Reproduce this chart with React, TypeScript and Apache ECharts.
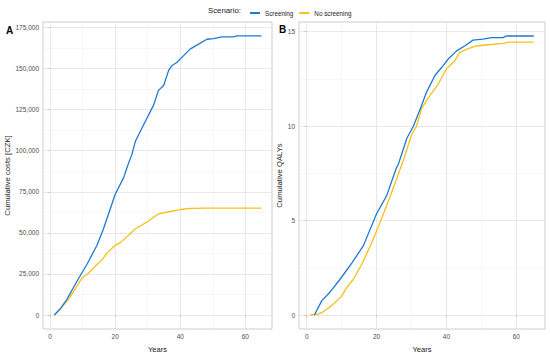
import React, { useEffect, useRef } from "react";
import * as echarts from "echarts";

// Panel A: cumulative costs [CZK]
const costYearsScreening = [1.3, 3.2, 5.1, 8.2, 11.5, 14.4, 16.4, 20, 22.6, 23.6, 25.1, 26.2, 28.7, 31.8, 33.3, 34.9, 36.4, 37.4, 39, 40.5, 43, 45.1, 48.2, 50.2, 52.8, 56.4, 57.4, 65];
const costScreening = [0, 4000, 9400, 20400, 31500, 42500, 52500, 73500, 83600, 89600, 97600, 105700, 115600, 127700, 136700, 139700, 148700, 151700, 153800, 156800, 161800, 164200, 167800, 168200, 169200, 169200, 169800, 169800];
const costYearsNoScreening = [1.3, 3.5, 5.8, 8.2, 9.7, 11.8, 14, 15.9, 17.4, 20, 21.5, 24.1, 26.2, 29.7, 31.8, 33.3, 36.9, 40, 43, 48.2, 65];
const costNoScreening = [0, 4500, 10000, 17400, 22400, 25400, 30000, 33500, 37500, 42500, 43900, 48500, 52500, 56500, 59500, 61500, 63000, 64200, 64900, 65100, 65000];

// Panel B: cumulative QALYs
const qalyYearsScreening = [2.2, 4.3, 6.7, 9.5, 12.9, 16.2, 20, 22.9, 24.7, 25.7, 26.2, 28.7, 30.5, 32.9, 34.3, 36.7, 38.6, 40.5, 42.9, 45.2, 47.6, 50.4, 52.9, 56.2, 57.1, 65];
const qalyScreening = [0, 0.75, 1.22, 1.88, 2.75, 3.66, 5.36, 6.32, 7.28, 7.8, 7.97, 9.37, 9.98, 11.1, 11.8, 12.68, 13.1, 13.55, 13.98, 14.24, 14.55, 14.6, 14.68, 14.68, 14.77, 14.77];
const qalyYearsNoScreening = [1, 3.3, 4.7, 7.1, 10, 11.4, 13.3, 15.7, 18.1, 20.9, 23.8, 25.2, 26.7, 27.6, 30, 31.4, 32.9, 35.3, 37.7, 40, 42.4, 43.8, 46.2, 48.6, 50.4, 56.2, 57.9, 65];
const qalyNoScreening = [0, 0.05, 0.17, 0.49, 1.0, 1.44, 1.88, 2.66, 3.62, 4.84, 6.23, 6.93, 7.7, 8.15, 9.54, 9.98, 10.94, 11.63, 12.24, 13.03, 13.46, 13.9, 14.1, 14.24, 14.28, 14.38, 14.45, 14.45];

const xTicks = [0, 20, 40, 60];
const xMinor = [10, 30, 50];
const costTicks = [0, 25000, 50000, 75000, 100000, 125000, 150000, 175000];
const costMinor = [12500, 37500, 62500, 87500, 112500, 137500, 162500];
const qalyTicks = [0, 5, 10, 15];
const qalyMinor = [2.5, 7.5, 12.5];

const seriesNames = ["Screening", "No screening"];
const BLUE = "#1F78D1";
const YELLOW = "#F5C01A";
const FONT = "Liberation Sans, Arial, sans-serif";

const pairs = (xs: number[], ys: number[]) => xs.map((x, i) => [x, ys[i]]);

export default function App() {
  const ref = useRef<HTMLDivElement>(null);
  useEffect(() => {
    if (!ref.current) return;
    const chart = echarts.init(ref.current, null, { renderer: "svg" });
    const major = { show: true, lineStyle: { color: "#dedede", width: 0.7 } };
    const minor = { show: true, lineStyle: { color: "#eeeeee", width: 0.5 } };
    const label = { color: "#4d4d4d", fontSize: 6.5, fontFamily: FONT, margin: 4 };
    const nameStyle = { color: "#1a1a1a", fontSize: 7.7, fontFamily: FONT };

    const mainX = (gi: number) => ({
      type: "value", gridIndex: gi, min: -2.2, max: 68.2, position: "bottom",
      name: "Years", nameLocation: "middle", nameGap: 16,
      nameTextStyle: { ...nameStyle, fontSize: 7.6 },
      axisLine: { show: false },
      axisTick: { show: true, customValues: xTicks, length: 2.5, lineStyle: { color: "#b3b3b3", width: 0.6 } },
      axisLabel: { ...label, customValues: xTicks },
      splitLine: major,
    });
    const minorX = (gi: number) => ({
      type: "value", gridIndex: gi, min: -2.2, max: 68.2, position: "top",
      axisLine: { show: false },
      axisTick: { show: false, customValues: xMinor },
      axisLabel: { show: false, customValues: xMinor },
      splitLine: minor,
    });

    chart.setOption({
      animation: false,
      legend: {
        data: seriesNames,
        left: 245,
        top: 5,
        itemWidth: 10,
        itemHeight: 2,
        itemGap: 6,
        icon: "rect",
        textStyle: { fontSize: 6.3, color: "#222", fontFamily: FONT },
      },
      graphic: [
        { type: "text", left: 208, top: 6, style: { text: "Scenario:", fontSize: 7.8, fill: "#222", fontFamily: FONT } },
        { type: "text", left: 6, top: 25, style: { text: "A", fontSize: 10, fontWeight: "bold", fill: "#000", fontFamily: FONT } },
        { type: "text", left: 279, top: 24, style: { text: "B", fontSize: 10, fontWeight: "bold", fill: "#000", fontFamily: FONT } },
      ],
      grid: [
        { left: 43, top: 22, width: 229, height: 311, show: true, borderColor: "#b8b8b8", borderWidth: 0.7, backgroundColor: "transparent" },
        { left: 299, top: 22, width: 246, height: 311, show: true, borderColor: "#b8b8b8", borderWidth: 0.7, backgroundColor: "transparent" },
      ],
      xAxis: [mainX(0), minorX(0), mainX(1), minorX(1)],
      yAxis: [
        {
          type: "value", gridIndex: 0, min: -8500, max: 178300, position: "left",
          name: "Cumulative costs [CZK]", nameLocation: "middle", nameGap: 28, nameTextStyle: nameStyle,
          axisLine: { show: false },
          axisTick: { show: true, customValues: costTicks, length: 2.5, lineStyle: { color: "#b3b3b3", width: 0.6 } },
          axisLabel: { ...label, customValues: costTicks, formatter: (v: number) => v.toLocaleString("en-US") },
          splitLine: major,
        },
        {
          type: "value", gridIndex: 0, min: -8500, max: 178300, position: "right",
          axisLine: { show: false },
          axisTick: { show: false, customValues: costMinor },
          axisLabel: { show: false, customValues: costMinor },
          splitLine: minor,
        },
        {
          type: "value", gridIndex: 1, min: -0.74, max: 15.51, position: "left",
          name: "Cumulative QALYs", nameLocation: "middle", nameGap: 12, nameTextStyle: nameStyle,
          axisLine: { show: false },
          axisTick: { show: true, customValues: qalyTicks, length: 2.5, lineStyle: { color: "#b3b3b3", width: 0.6 } },
          axisLabel: { ...label, customValues: qalyTicks },
          splitLine: major,
        },
        {
          type: "value", gridIndex: 1, min: -0.74, max: 15.51, position: "right",
          axisLine: { show: false },
          axisTick: { show: false, customValues: qalyMinor },
          axisLabel: { show: false, customValues: qalyMinor },
          splitLine: minor,
        },
      ],
      series: [
        { name: seriesNames[0], type: "line", xAxisIndex: 0, yAxisIndex: 0, data: pairs(costYearsScreening, costScreening), showSymbol: false, color: BLUE, lineStyle: { width: 1.3 }, z: 3 },
        { name: seriesNames[1], type: "line", xAxisIndex: 0, yAxisIndex: 0, data: pairs(costYearsNoScreening, costNoScreening), showSymbol: false, color: YELLOW, lineStyle: { width: 1.3 }, z: 2 },
        { name: seriesNames[0], type: "line", xAxisIndex: 2, yAxisIndex: 2, data: pairs(qalyYearsScreening, qalyScreening), showSymbol: false, color: BLUE, lineStyle: { width: 1.3 }, z: 3 },
        { name: seriesNames[1], type: "line", xAxisIndex: 2, yAxisIndex: 2, data: pairs(qalyYearsNoScreening, qalyNoScreening), showSymbol: false, color: YELLOW, lineStyle: { width: 1.3 }, z: 2 },
      ],
    });
    return () => chart.dispose();
  }, []);
  return (
    <div
      ref={ref}
      style={{ position: "fixed", left: 0, top: 0, width: 550, height: 358, background: "#fff" }}
    />
  );
}
